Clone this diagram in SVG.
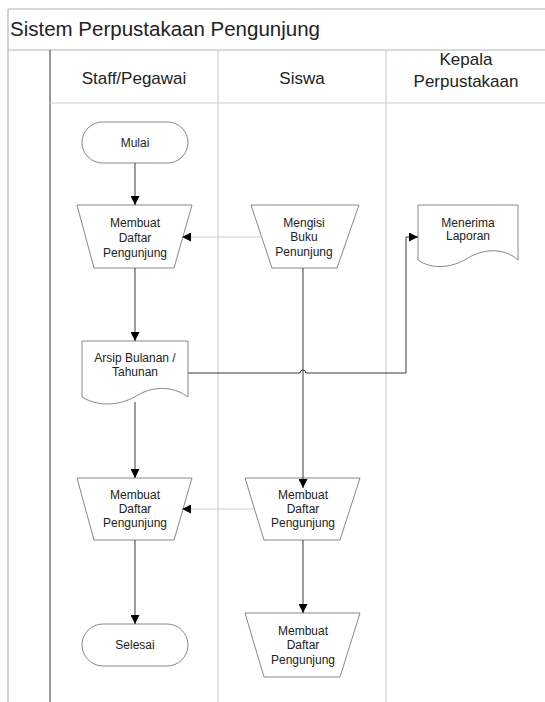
<svg xmlns="http://www.w3.org/2000/svg" width="545" height="702" viewBox="0 0 545 702">
<style>
.frame{stroke:#b4b4b4;stroke-width:1.2;fill:none}
.lane{stroke:#cfcfcf;stroke-width:1.2;fill:none}
.node{fill:#fff;stroke:#7a7a7a;stroke-width:0.9}
.conn{fill:none;stroke:#3a3a3a;stroke-width:1}
.conn2{fill:none;stroke:#d0d0d0;stroke-width:1}
.t{font-family:"Liberation Sans",Arial,sans-serif;font-size:12px;fill:#222;text-anchor:middle}
.h{font-family:"Liberation Sans",Arial,sans-serif;font-size:17px;fill:#222;text-anchor:middle}
.title{font-family:"Liberation Sans",Arial,sans-serif;font-size:20.5px;fill:#222}
</style>
<defs>
<marker id="ah" viewBox="0 0 10 10" refX="10" refY="5" markerWidth="9" markerHeight="9" markerUnits="userSpaceOnUse" orient="auto">
<path d="M0,0 L10,5 L0,10 Z" fill="#000"/>
</marker>
</defs>
<rect width="545" height="702" fill="#fff"/>
<g id="pool">
<line class="frame" x1="8" y1="9" x2="545" y2="9"/>
<line class="frame" x1="8" y1="9" x2="8" y2="702"/>
<line class="frame" x1="8" y1="50" x2="545" y2="50"/>
<line x1="50" y1="50" x2="50" y2="702" stroke="#555" stroke-width="1.2"/>
<line class="lane" x1="50" y1="103" x2="545" y2="103"/>
<line class="lane" x1="218" y1="50" x2="218" y2="702"/>
<line class="lane" x1="386" y1="50" x2="386" y2="702"/>
<text class="title" x="10" y="36">Sistem Perpustakaan Pengunjung</text>
<text class="h" x="134" y="84">Staff/Pegawai</text>
<text class="h" x="302" y="84">Siswa</text>
<text class="h" x="466" y="65">Kepala</text>
<text class="h" x="466" y="87">Perpustakaan</text>
</g>
<g id="mulai">
<rect class="node" x="82" y="122" width="106" height="41" rx="20.5"/>
<text class="t" x="135" y="147">Mulai</text>
</g>
<g id="membuat1">
<path class="node" d="M77,205 H192 L174,268 H94 Z"/>
<text class="t" x="135" y="227">Membuat</text>
<text class="t" x="135" y="242">Daftar</text>
<text class="t" x="135" y="257">Pengunjung</text>
</g>
<g id="mengisi">
<path class="node" d="M251,205 H359 L337,268 H272 Z"/>
<text class="t" x="304" y="227">Mengisi</text>
<text class="t" x="304" y="241">Buku</text>
<text class="t" x="304" y="256">Penunjung</text>
</g>
<g id="menerima">
<path class="node" d="M418,205 H518 V260 C505,248 485,248 468,258 C452,268 432,270 418,260 Z"/>
<text class="t" x="468" y="227">Menerima</text>
<text class="t" x="468" y="240">Laporan</text>
</g>
<g id="arsip">
<path class="node" d="M82,341 H188 V397 C175,387 155,385 138,395 C122,405 100,408 82,397 Z"/>
<text class="t" x="135" y="362">Arsip Bulanan /</text>
<text class="t" x="135" y="376">Tahunan</text>
</g>
<g id="membuat2">
<path class="node" d="M77,478 H192 L174,540 H94 Z"/>
<text class="t" x="135" y="499">Membuat</text>
<text class="t" x="135" y="513">Daftar</text>
<text class="t" x="135" y="527">Pengunjung</text>
</g>
<g id="membuat3">
<path class="node" d="M245,478 H360 L340,540 H264 Z"/>
<text class="t" x="303" y="499">Membuat</text>
<text class="t" x="303" y="513">Daftar</text>
<text class="t" x="303" y="527">Pengunjung</text>
</g>
<g id="selesai">
<rect class="node" x="82" y="624" width="106" height="42" rx="21"/>
<text class="t" x="135" y="649">Selesai</text>
</g>
<g id="membuat4">
<path class="node" d="M245,613 H360 L340,677 H264 Z"/>
<text class="t" x="303" y="635">Membuat</text>
<text class="t" x="303" y="649">Daftar</text>
<text class="t" x="303" y="664">Pengunjung</text>
</g>
<g id="connectors">
<line class="conn" x1="135" y1="163" x2="135" y2="205" marker-end="url(#ah)"/>
<line class="conn2" x1="263" y1="237" x2="182" y2="237" marker-end="url(#ah)"/>
<line class="conn" x1="135" y1="268" x2="135" y2="341" marker-end="url(#ah)"/>
<line class="conn" x1="303" y1="268" x2="303" y2="488" marker-end="url(#ah)"/>
<path class="conn" d="M188,373 H300 A3,3 0 0 1 306,373 H406 V237 H418" marker-end="url(#ah)"/>
<line class="conn" x1="135" y1="402" x2="135" y2="478" marker-end="url(#ah)"/>
<line class="conn2" x1="254" y1="509" x2="182" y2="509" marker-end="url(#ah)"/>
<line class="conn" x1="135" y1="540" x2="135" y2="624" marker-end="url(#ah)"/>
<line class="conn" x1="303" y1="540" x2="303" y2="613" marker-end="url(#ah)"/>
</g>
</svg>
